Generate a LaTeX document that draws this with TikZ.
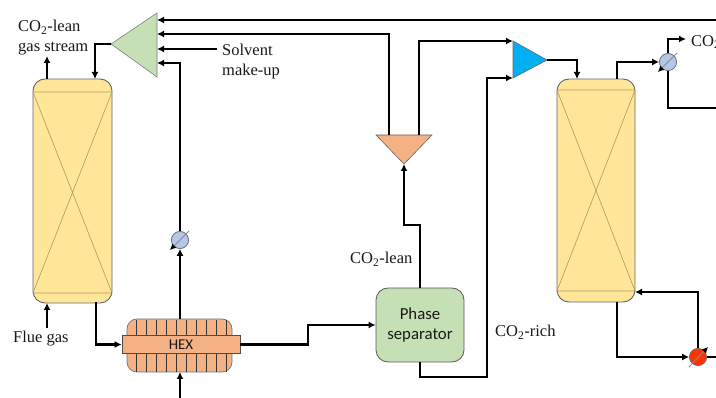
\documentclass[tikz,border=0pt]{standalone}
\usepackage{xcolor}
\usepackage{fontspec}
\setmainfont{Liberation Serif}
\newfontfamily\calibrifont{Carlito}
\usetikzlibrary{arrows.meta,calc}

\definecolor{columnfill}{HTML}{FFE699}
\definecolor{columnline}{HTML}{B09A5E}
\definecolor{greenfill}{HTML}{C5E0B4}
\definecolor{orangefill}{HTML}{F4B183}
\definecolor{bluefill}{HTML}{00B0F0}
\definecolor{valvefill}{HTML}{B4C7E7}
\definecolor{redfill}{HTML}{FF3300}

\tikzset{
  flow/.style={draw=black, line width=2.2pt, -{Latex[length=7pt,width=7pt]}},
  plainflow/.style={draw=black, line width=2.2pt},
  column/.style={draw=black!60, fill=columnfill, rounded corners=12pt, line width=0.9pt,
    minimum width=79pt, minimum height=224pt, inner sep=0pt},
  packing/.style={draw=columnline, line width=0.6pt},
  valve/.style={circle, draw=black!55, line width=0.7pt, minimum size=17pt, inner sep=0pt},
  valvearrow/.style={draw=black!45, line width=0.8pt},
  label/.style={font=\fontsize{16.5}{20}\selectfont, text=black!90, inner sep=0pt, align=left},
  boxlabel/.style={font=\calibrifont\fontsize{16.8}{20}\selectfont, text=black!90, align=center}
}

\begin{document}
\begin{tikzpicture}[x=1pt,y=-1pt]
\useasboundingbox (0,0) rectangle (716,398);
\clip (0,0) rectangle (716,398);

% Absorber column
\node[column] (absorber) at (72.5,191) {};
\draw[packing] (33,92) -- (112,92) -- (33,293) -- (112,293) -- (33,92);

% Stripper column
\node[column, minimum width=78pt, minimum height=223pt] (stripper) at (596,190.5) {};
\draw[packing] (557,90) -- (635,90) -- (557,291) -- (635,291) -- (557,90);

% Top mixer
\coordinate (mixtip) at (111,44);
\coordinate (mixin1) at (157,20);
\coordinate (mixin2) at (157,34);
\coordinate (mixin3) at (157,49);
\coordinate (mixin4) at (157,63);
\draw[draw=black!50, fill=greenfill, line width=0.6pt] (mixtip) -- (157,13) -- (157,77) -- cycle;

% Splitter
\coordinate (splittip) at (404,164);
\coordinate (splitout1) at (389,135);
\coordinate (splitout2) at (419,135);
\draw[draw=black!60, fill=orangefill, line width=0.6pt] (376,135) -- (432,135) -- (splittip) -- cycle;

% Blue mixer
\coordinate (bluetip) at (547,60);
\coordinate (bluein1) at (513,41);
\coordinate (bluein2) at (513,78);
\draw[draw=black!60, fill=bluefill, line width=0.6pt] (bluein1) -- (bluetip) -- (bluein2) -- cycle;

% Heat exchanger
\node[draw=black!55, fill=orangefill, rounded corners=10pt, minimum width=105pt, minimum height=53pt,
  inner sep=0pt, line width=0.7pt] (hexbody) at (179.5,345.5) {};
\foreach \x in {136,146,156,166,176,186,196,206,216.5,226.5}
  \draw[black!80, line width=0.8pt] (\x,320) -- (\x,372);
\node[draw=black!70, fill=orangefill, minimum width=118pt, minimum height=18pt, inner sep=0pt,
  line width=0.7pt, font=\calibrifont\fontsize{15}{15}\selectfont, text=black!90] (hexband) at (181,344.5) {HEX};

% Phase separator
\node[draw=black!65, fill=greenfill, rounded corners=12pt, minimum width=88pt, minimum height=74pt,
  inner sep=0pt, line width=0.8pt, boxlabel] (separator) at (420,325) {Phase\\separator};

% Valves
\node[valve, fill=valvefill] (leanvalve) at (180,240) {};
\node[valve, fill=valvefill] (topvalve) at (668,62) {};
\node[valve, fill=redfill] (reboiler) at (698,357) {};

% Free ends and bends
\coordinate (topright) at (716,20);
\coordinate (makeup) at (217,49);
\coordinate (leanout) at (47,56);
\coordinate (fluein) at (47,328);
\coordinate (absout) at (96,302.5);
\coordinate (abstop) at (95,79);
\coordinate (abstop2) at (47,79);
\coordinate (absbot) at (47,303);
\coordinate (hexin) at (180,398);
\coordinate (hexup) at (180,319);
\coordinate (hexlow) at (180,372);
\coordinate (hexjog) at (308,335);
\coordinate (leanjog) at (404,225);
\coordinate (richcorner) at (487,377);
\coordinate (stripin) at (577,79);
\coordinate (stripout) at (617,79);
\coordinate (stripbot) at (617,302);
\coordinate (stripret) at (635,292);
\coordinate (co2out) at (686,39);
\coordinate (toplean) at (716,108);
\coordinate (rightout) at (716,357);

% Connectors
\draw[flow] (topright) -- (mixin1);
\draw[flow] (splitout1) |- (mixin2);
\draw[flow] (makeup) -- (mixin3);
\draw[flow] (hexup) -- (leanvalve);
\draw[flow] (leanvalve) |- (mixin4);
\draw[flow] (mixtip) -| (abstop);
\draw[flow] (abstop2) -- (leanout);
\draw[flow] (fluein) -- (absbot);
\draw[flow] (absout) |- (hexband.west);
\draw[flow] (hexin) -- (hexlow);
\draw[flow] (hexband.east) -| (hexjog) |- (separator.west);
\draw[flow] (separator.north) |- (leanjog) -- (splittip);
\draw[flow] (splitout2) |- (bluein1);
\draw[flow] (separator.south) |- (richcorner) |- (bluein2);
\draw[flow] (bluetip) -| (stripin);
\draw[flow] (stripout) |- (topvalve);
\draw[flow] (topvalve) |- (co2out);
\draw[plainflow] (topvalve) |- (toplean);
\draw[flow] (stripbot) |- (reboiler);
\draw[flow] (reboiler) |- (stripret);
\draw[plainflow] (reboiler) -- (rightout);

% Redraw valves over their lines
\node[valve, fill=valvefill] at (leanvalve) {};
\node[valve, fill=valvefill] at (topvalve) {};
\node[valve, fill=redfill] at (reboiler) {};
\draw[valvearrow, -{Latex[length=6pt,width=6pt,black]}] ($(leanvalve)+(9,-9)$) -- ($(leanvalve)+(-10,10)$);
\draw[valvearrow, -{Latex[length=6pt,width=6pt,black]}] ($(topvalve)+(9,-9)$) -- ($(topvalve)+(-10,10)$);
\draw[valvearrow, -{Latex[length=6pt,width=6pt,black]}] ($(reboiler)+(-9,10)$) -- ($(reboiler)+(10,-10)$);

% Labels
\node[label, anchor=west] (leanlabel) at (18,38) {CO\textsubscript{2}-lean\\gas stream};
\node[label, anchor=west] (makeuplabel) at (222,62) {Solvent\\make-up};
\node[label, anchor=west] (fluelabel) at (13,339) {Flue gas};
\node[label, anchor=west] (separatorlean) at (350,259) {CO\textsubscript{2}-lean};
\node[label, anchor=west] (separatorrich) at (495,332) {CO\textsubscript{2}-rich};
\node[label, anchor=west] (co2label) at (691,42) {CO\textsubscript{2}};

\end{tikzpicture}
\end{document}
